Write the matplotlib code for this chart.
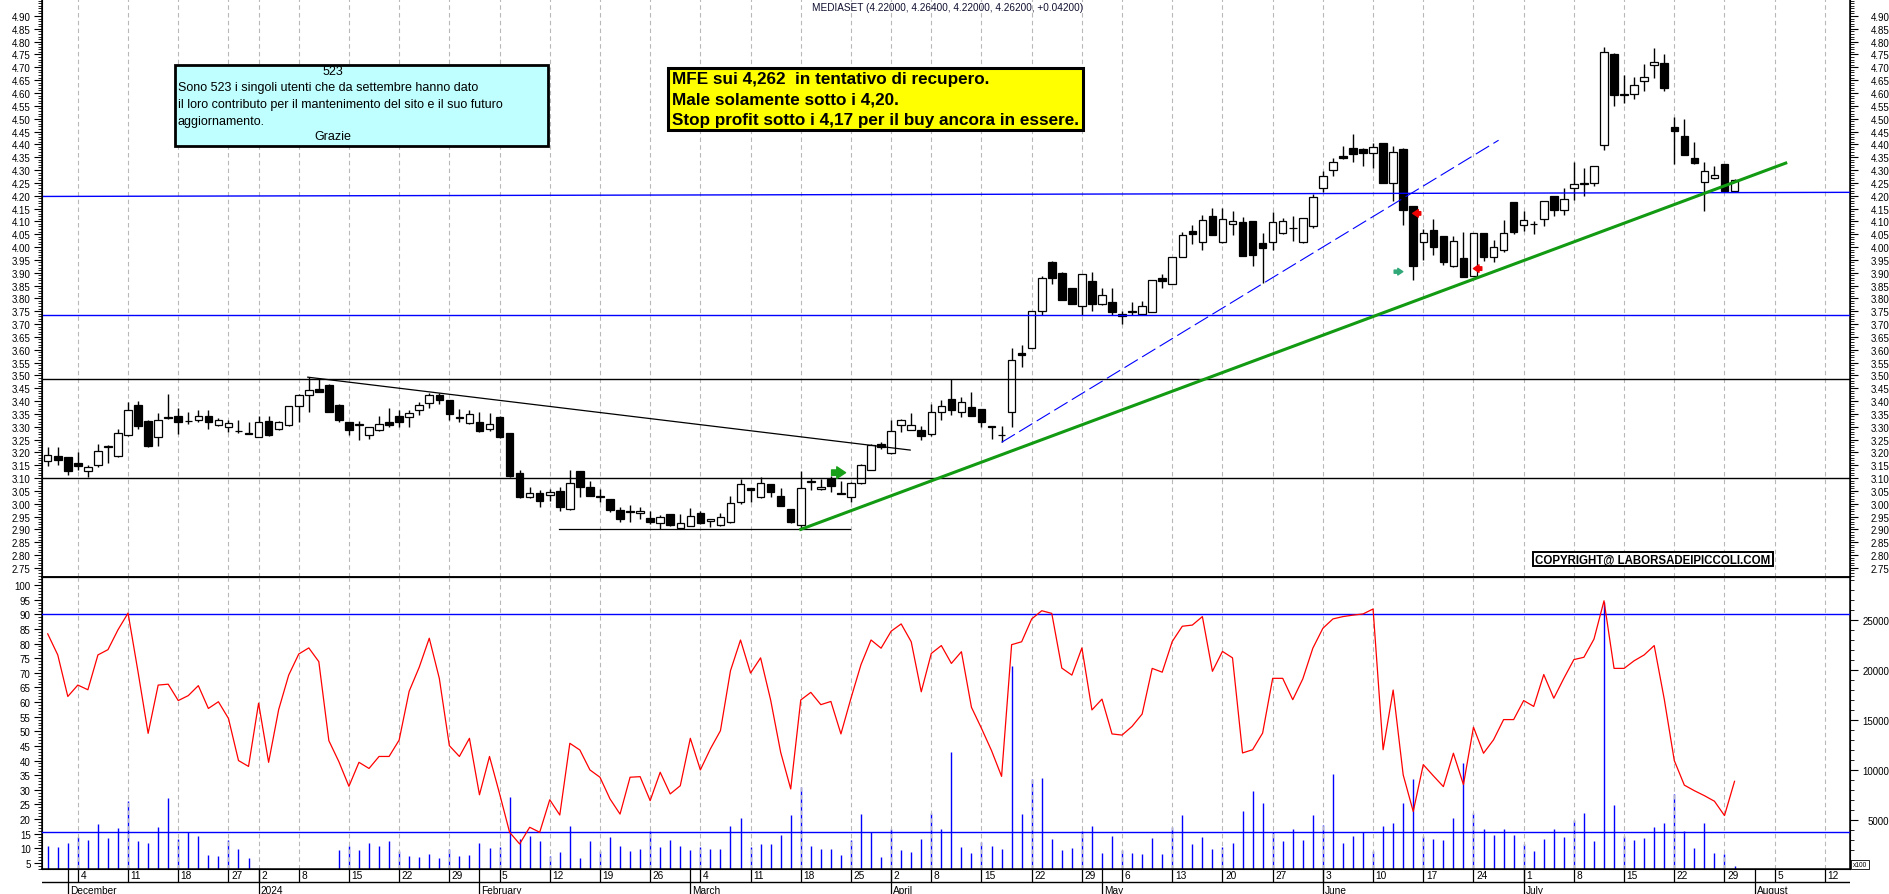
import numpy as np
import pandas as pd
import matplotlib
matplotlib.use("Agg")
import matplotlib.pyplot as plt
from matplotlib.patches import Rectangle
from matplotlib.ticker import MultipleLocator

plt.rcParams['font.family'] = ['Liberation Sans', 'DejaVu Sans']

# ---------------- data ----------------
title = "MEDIASET (4.22000, 4.26400, 4.22000, 4.26200, +0.04200)"
first_day = '2023-11-29'
last_day = '2024-08-20'
holidays = ['2023-12-25', '2023-12-26', '2024-01-01', '2024-03-29',
            '2024-04-01', '2024-05-01', '2024-08-15']

opens = [3.168, 3.185, 3.181, 3.159, 3.127, 3.150, 3.222, 3.184, 3.267, 3.386,
         3.323, 3.258, 3.339, 3.343, 3.322, 3.327, 3.343, 3.308, 3.297, 3.285,
         3.275, 3.261, 3.323, 3.291, 3.308, 3.379, 3.425, 3.447, 3.464, 3.386,
         3.317, 3.307, 3.267, 3.288, 3.317, 3.343, 3.336, 3.366, 3.391, 3.423,
         3.404, 3.336, 3.314, 3.317, 3.291, 3.339, 3.274, 3.118, 3.025, 3.040,
         3.034, 3.050, 2.978, 3.127, 3.064, 3.031, 3.018, 2.975, 2.973, 2.962,
         2.943, 2.923, 2.960, 2.904, 2.914, 2.962, 2.932, 2.917, 2.927, 3.005,
         3.062, 3.025, 3.075, 3.030, 2.979, 2.917, 3.085, 3.056, 3.095, 3.041,
         3.025, 3.079, 3.133, 3.231, 3.196, 3.306, 3.289, 3.287, 3.273, 3.356,
         3.408, 3.356, 3.375, 3.369, 3.303, 3.268, 3.356, 3.588, 3.606, 3.749,
         3.943, 3.900, 3.839, 3.770, 3.869, 3.778, 3.787, 3.730, 3.752, 3.738,
         3.748, 3.878, 3.856, 3.962, 4.064, 4.018, 4.119, 4.018, 4.088, 4.099,
         4.100, 4.014, 4.018, 4.053, 4.074, 4.018, 4.081, 4.229, 4.300, 4.353,
         4.384, 4.383, 4.366, 4.404, 4.248, 4.382, 4.158, 4.018, 4.066, 4.042,
         3.925, 3.957, 3.888, 4.053, 3.960, 3.990, 4.175, 4.086, 4.089, 4.109,
         4.197, 4.144, 4.230, 4.248, 4.248, 4.397, 4.752, 4.596, 4.596, 4.648,
         4.709, 4.717, 4.466, 4.431, 4.345, 4.254, 4.269, 4.323, 4.220]
highs = [3.219, 3.219, 3.183, 3.200, 3.150, 3.232, 3.228, 3.291, 3.395, 3.399,
         3.325, 3.353, 3.427, 3.373, 3.356, 3.366, 3.366, 3.333, 3.327, 3.327,
         3.317, 3.343, 3.343, 3.323, 3.380, 3.427, 3.492, 3.488, 3.465, 3.387,
         3.318, 3.323, 3.298, 3.343, 3.373, 3.366, 3.365, 3.395, 3.430, 3.430,
         3.405, 3.369, 3.365, 3.356, 3.353, 3.340, 3.276, 3.133, 3.064, 3.053,
         3.056, 3.066, 3.133, 3.128, 3.088, 3.056, 3.019, 2.988, 2.995, 2.988,
         2.973, 2.956, 2.961, 2.960, 2.982, 2.973, 2.940, 2.962, 3.030, 3.098,
         3.063, 3.103, 3.076, 3.060, 2.980, 3.128, 3.101, 3.095, 3.108, 3.090,
         3.086, 3.156, 3.234, 3.241, 3.327, 3.330, 3.352, 3.304, 3.388, 3.405,
         3.484, 3.414, 3.434, 3.370, 3.304, 3.304, 3.605, 3.618, 3.750, 3.886,
         3.944, 3.901, 3.840, 3.896, 3.904, 3.839, 3.839, 3.752, 3.787, 3.790,
         3.872, 3.894, 3.963, 4.057, 4.086, 4.125, 4.151, 4.151, 4.142, 4.116,
         4.101, 4.053, 4.135, 4.113, 4.119, 4.113, 4.206, 4.297, 4.345, 4.392,
         4.440, 4.384, 4.405, 4.405, 4.392, 4.384, 4.159, 4.070, 4.109, 4.043,
         4.044, 4.057, 4.054, 4.054, 4.027, 4.106, 4.176, 4.142, 4.103, 4.179,
         4.198, 4.230, 4.332, 4.306, 4.315, 4.778, 4.756, 4.670, 4.661, 4.713,
         4.774, 4.752, 4.505, 4.499, 4.410, 4.330, 4.317, 4.324, 4.264]
lows = [3.148, 3.150, 3.113, 3.133, 3.104, 3.142, 3.159, 3.183, 3.265, 3.291,
        3.221, 3.226, 3.331, 3.271, 3.310, 3.317, 3.291, 3.301, 3.280, 3.275,
        3.270, 3.258, 3.262, 3.288, 3.304, 3.319, 3.358, 3.434, 3.356, 3.319,
        3.267, 3.249, 3.252, 3.284, 3.297, 3.300, 3.300, 3.345, 3.372, 3.389,
        3.327, 3.319, 3.312, 3.280, 3.282, 3.256, 3.105, 3.024, 3.022, 2.986,
        3.012, 2.973, 2.976, 3.027, 3.029, 3.008, 2.969, 2.930, 2.930, 2.940,
        2.921, 2.903, 2.913, 2.902, 2.912, 2.921, 2.908, 2.914, 2.925, 2.997,
        3.005, 3.024, 3.025, 2.991, 2.926, 2.900, 3.053, 3.055, 3.044, 3.038,
        3.008, 3.078, 3.132, 3.212, 3.194, 3.280, 3.286, 3.249, 3.264, 3.327,
        3.346, 3.338, 3.340, 3.297, 3.254, 3.239, 3.297, 3.532, 3.605, 3.734,
        3.855, 3.793, 3.777, 3.735, 3.751, 3.774, 3.735, 3.700, 3.735, 3.737,
        3.747, 3.839, 3.855, 3.961, 4.012, 3.990, 4.047, 4.017, 4.048, 3.965,
        3.927, 3.858, 3.990, 4.052, 4.025, 4.017, 4.073, 4.216, 4.275, 4.343,
        4.332, 4.317, 4.308, 4.250, 4.180, 4.087, 3.873, 3.951, 3.970, 3.931,
        3.924, 3.883, 3.887, 3.947, 3.943, 3.982, 4.051, 4.061, 4.051, 4.083,
        4.122, 4.126, 4.184, 4.197, 4.236, 4.379, 4.548, 4.560, 4.577, 4.609,
        4.657, 4.609, 4.323, 4.357, 4.325, 4.142, 4.265, 4.219, 4.220]
closes = [3.190, 3.171, 3.127, 3.146, 3.142, 3.207, 3.224, 3.275, 3.366, 3.301,
          3.223, 3.327, 3.333, 3.317, 3.323, 3.343, 3.317, 3.327, 3.314, 3.283,
          3.273, 3.320, 3.267, 3.317, 3.379, 3.425, 3.444, 3.436, 3.356, 3.327,
          3.287, 3.309, 3.297, 3.310, 3.306, 3.317, 3.353, 3.384, 3.424, 3.405,
          3.349, 3.334, 3.349, 3.282, 3.309, 3.258, 3.107, 3.025, 3.040, 3.012,
          3.044, 2.988, 3.079, 3.066, 3.031, 3.025, 2.975, 2.940, 2.966, 2.973,
          2.930, 2.949, 2.917, 2.923, 2.953, 2.923, 2.939, 2.949, 3.004, 3.075,
          3.053, 3.079, 3.047, 2.992, 2.927, 3.060, 3.087, 3.064, 3.069, 3.039,
          3.079, 3.150, 3.228, 3.219, 3.282, 3.326, 3.306, 3.264, 3.356, 3.382,
          3.366, 3.395, 3.343, 3.320, 3.298, 3.266, 3.558, 3.578, 3.749, 3.881,
          3.878, 3.794, 3.778, 3.895, 3.778, 3.814, 3.745, 3.738, 3.747, 3.770,
          3.871, 3.869, 3.962, 4.047, 4.051, 4.105, 4.048, 4.109, 4.100, 3.966,
          3.969, 3.995, 4.096, 4.100, 4.076, 4.112, 4.196, 4.278, 4.330, 4.347,
          4.361, 4.366, 4.388, 4.251, 4.371, 4.145, 3.925, 4.053, 3.999, 3.940,
          4.022, 3.884, 4.053, 3.960, 3.999, 4.053, 4.057, 4.105, 4.091, 4.178,
          4.144, 4.187, 4.244, 4.244, 4.314, 4.761, 4.594, 4.594, 4.631, 4.664,
          4.719, 4.618, 4.451, 4.358, 4.326, 4.297, 4.282, 4.220, 4.262]

oscillator = [83.3, 76.1, 61.9, 65.8, 64.2, 76.1, 77.9, 84.7, 90.4, 70.2,
              49.3, 65.8, 66.1, 60.5, 62.2, 65.6, 57.8, 60.1, 54.4, 40.0,
              38.0, 59.6, 39.4, 57.4, 69.2, 76.4, 78.5, 73.8, 46.8, 39.6,
              31.2, 39.4, 37.3, 41.4, 41.4, 47.0, 63.7, 71.9, 81.8, 68.1,
              45.1, 41.4, 47.6, 28.3, 41.4, 28.7, 15.5, 11.5, 17.2, 15.5,
              26.6, 21.4, 45.9, 43.6, 36.8, 34.3, 26.9, 21.7, 34.3, 34.5,
              26.3, 36.0, 28.6, 31.4, 47.6, 36.8, 44.0, 50.2, 70.7, 81.2,
              69.9, 75.1, 60.7, 42.8, 30.3, 60.7, 63.3, 59.1, 60.2, 49.1,
              61.3, 72.8, 81.2, 78.4, 84.2, 86.7, 80.6, 63.5, 76.6, 79.3,
              73.2, 77.2, 58.2, 51.0, 43.4, 34.6, 79.6, 80.6, 88.4, 91.2,
              90.3, 71.6, 69.2, 78.5, 57.3, 61.0, 49.1, 48.7, 51.7, 55.9,
              71.5, 70.2, 80.7, 85.9, 86.3, 89.2, 70.5, 77.3, 75.1, 42.6,
              43.7, 49.4, 68.1, 68.1, 60.8, 67.9, 78.4, 85.2, 88.4, 89.2,
              89.7, 90.1, 91.8, 43.7, 64.1, 35.1, 22.6, 38.6, 34.8, 31.1,
              42.5, 31.8, 51.4, 42.5, 47.1, 54.0, 54.0, 60.5, 58.5, 69.4,
              61.3, 68.1, 74.5, 75.3, 81.5, 94.6, 71.5, 71.5, 74.1, 76.1,
              79.3, 61.0, 40.0, 31.6, 29.7, 28.0, 26.1, 21.2, 32.9]

volume = [2440, 2340, 2700, 3340, 3000, 4600, 3200, 4200, 6940, 2900,
          2700, 4340, 7200, 3100, 3770, 3440, 1500, 1440, 3000, 2100,
          1200, 0, 0, 0, 0, 0, 0, 0, 0, 2000,
          2440, 2000, 2700, 2440, 2900, 1940, 1440, 1340, 1600, 1200,
          2100, 1440, 1500, 2700, 2200, 2340, 7340, 3100, 3440, 2940,
          1440, 1840, 4440, 1170, 2940, 1940, 3340, 2440, 1940, 2100,
          3940, 2270, 3000, 2440, 2040, 2340, 2100, 2100, 4440, 5200,
          2340, 2600, 2600, 3500, 5500, 8340, 2440, 2100, 2100, 1500,
          3000, 5600, 3770, 1340, 4100, 2000, 1840, 3100, 5700, 4100,
          11770, 2340, 1700, 2840, 2440, 2100, 20430, 5600, 9100, 9200,
          3100, 2000, 2200, 3870, 4370, 1700, 3370, 2000, 1700, 1600,
          3200, 1600, 4270, 5500, 2600, 3340, 2100, 2340, 2700, 5870,
          7940, 6700, 3770, 2870, 4100, 3000, 5500, 4500, 9600, 2700,
          3370, 3770, 1870, 4370, 4700, 6700, 9100, 3440, 3100, 3000,
          5200, 10700, 5700, 4100, 3500, 4100, 3500, 2600, 1870, 3100,
          4100, 3340, 5040, 5700, 2940, 26770, 6500, 3440, 3000, 3200,
          4340, 4700, 7600, 3870, 2200, 4700, 1700, 1600, 430]

# drawn levels and trendlines (index, price)
blue_levels = [3.734]
blue_slanted = [(-0.57, 4.197), (179.5, 4.213)]
black_levels = [3.486, 3.100]
black_trend = [(25.9, 3.493), (85.9, 3.209)]
black_support = [(50.9, 2.900), (79.9, 2.900)]
green_trend = [(75.0, 2.900), (173.1, 4.327)]
blue_dashed = [(95.0, 3.239), (144.5, 4.416)]
osc_levels = [90.2, 15.5]

green_arrow = [(78.07, 3.121), (79.46, 3.121)]
red_arrows = [[(136.75, 4.131), (135.95, 4.131)], [(142.83, 3.916), (141.99, 3.916)]]
teal_arrow = [(134.1, 3.904), (134.96, 3.904)]

box_lines = ["Sono 523 i singoli utenti che da settembre hanno dato",
             "il loro contributo per il mantenimento del sito e il suo futuro",
             "aggiornamento."]
note_lines = ["MFE sui 4,262  in tentativo di recupero.",
              "Male solamente sotto i 4,20.",
              "Stop profit sotto i 4,17 per il buy ancora in essere."]

# ---------------- calendar ----------------
days = pd.bdate_range(first_day, last_day, freq='C', holidays=holidays)
XMIN, XMAX = -0.57, 179.5
x = np.arange(len(closes))
weeks = days.to_period('W')
week_start = [i for i in range(1, len(days)) if weeks[i] != weeks[i - 1] and i <= XMAX]
month_start = [i for i in range(1, len(days)) if days[i].month != days[i - 1].month and i <= XMAX]

# ---------------- figure ----------------
W, H = 1890, 895
fig = plt.figure(figsize=(W / 100, H / 100), dpi=100)


def rect(x0, y0, x1, y1):
    return [x0 / W, 1 - y1 / H, (x1 - x0) / W, (y1 - y0) / H]


def fx(px):
    return px / W


def fy(py):
    return 1 - py / H


ax_p = fig.add_axes(rect(42, 0, 1850, 578))
ax_l = fig.add_axes(rect(42, 578, 1850, 870), sharex=ax_p)
ax_d = fig.add_axes(rect(42, 870, 1850, 895), sharex=ax_p)
ax_p.set_xlim(XMIN, XMAX)

grid_kw = dict(color='#b8b8b8', lw=0.8, ls=(0, (4, 3)), zorder=0)
for ax in (ax_p, ax_l):
    for i in week_start:
        ax.axvline(i, **grid_kw)
    ax.tick_params(axis='x', bottom=False, labelbottom=False)
    for s in ax.spines.values():
        s.set_linewidth(1.1)

# ---- price panel ----
o, h, l, c = map(np.array, (opens, highs, lows, closes))
up = c >= o
lo = np.minimum(o, c)
bh = np.maximum(np.abs(c - o), 0.002)
ax_p.vlines(x, l, h, color='black', lw=1, zorder=3)
ax_p.bar(x[up], bh[up], 0.75, bottom=lo[up], color='white', edgecolor='black', lw=0.9, zorder=4)
ax_p.bar(x[~up], bh[~up], 0.75, bottom=lo[~up], color='black', edgecolor='black', lw=0.9, zorder=4)

for lev in blue_levels:
    ax_p.axhline(lev, color='#0000ff', lw=1, zorder=5)
ax_p.plot(*zip(*blue_slanted), color='#0000ff', lw=1, zorder=5)
for lev in black_levels:
    ax_p.axhline(lev, color='black', lw=1, zorder=5)
ax_p.plot(*zip(*black_trend), color='black', lw=0.9, zorder=5)
ax_p.plot(*zip(*black_support), color='black', lw=0.9, zorder=5)
ax_p.plot(*zip(*blue_dashed), color='#0000ff', lw=0.8, ls=(0, (14, 4.5)), zorder=5)
ax_p.plot(*zip(*green_trend), color='#129a12', lw=2.2, zorder=6)


def arrow(ax, tail, tip, color, scale):
    ax.annotate('', xy=tip, xytext=tail,
                arrowprops=dict(arrowstyle='simple,head_length=0.45,head_width=0.6,tail_width=0.28',
                                color=color, mutation_scale=scale, shrinkA=0, shrinkB=0),
                zorder=7)


arrow(ax_p, green_arrow[0], green_arrow[1], '#18a018', 14)
for t, p in red_arrows:
    arrow(ax_p, t, p, '#ee0000', 9)
arrow(ax_p, teal_arrow[0], teal_arrow[1], '#30a878', 8)

ax_p.set_ylim(2.7145, 4.9662)
price_ticks = np.round(np.arange(2.75, 4.901, 0.05), 2)
ax_pr = ax_p.twinx()
ax_pr.set_ylim(ax_p.get_ylim())
for ax in (ax_p, ax_pr):
    ax.set_yticks(price_ticks)
    ax.set_yticklabels(['%.2f' % v for v in price_ticks], ha='right')
    ax.yaxis.set_minor_locator(MultipleLocator(0.01))
    ax.spines['top'].set_visible(False)
ax_p.tick_params(axis='y', which='major', length=6, width=0.8, pad=2.2, labelsize=7)
ax_p.tick_params(axis='y', which='minor', length=3, width=0.6)
ax_pr.tick_params(axis='y', which='major', length=6, width=0.8, pad=22.3, labelsize=7)
ax_pr.tick_params(axis='y', which='minor', length=3, width=0.6)
ax_pr.tick_params(axis='x', bottom=False, labelbottom=False)

# ---- lower panel ----
ax_v = ax_l.twinx()
ax_v.vlines(x, 0, volume, color='#0000ff', lw=1)
ax_v.set_ylim(100, 29300)
vol_ticks = np.arange(5000, 25001, 5000)
ax_v.set_yticks(vol_ticks)
ax_v.set_yticklabels([str(v) for v in vol_ticks], ha='right')
ax_v.yaxis.set_minor_locator(MultipleLocator(1000))
ax_v.tick_params(axis='y', which='major', length=6, width=0.8, pad=22.3, labelsize=7)
ax_v.tick_params(axis='y', which='minor', length=3, width=0.6)

ax_l.set_zorder(ax_v.get_zorder() + 1)
ax_l.patch.set_visible(False)
for lev in osc_levels:
    ax_l.axhline(lev, color='#0000ff', lw=1, zorder=4)
ax_l.plot(x, oscillator, color='#ff0000', lw=0.9, zorder=5)
ax_l.set_ylim(2.94, 102.73)
osc_ticks = np.arange(5, 101, 5)
ax_l.set_yticks(osc_ticks)
ax_l.set_yticklabels([str(v) for v in osc_ticks])
ax_l.yaxis.set_minor_locator(MultipleLocator(1))
ax_l.tick_params(axis='y', which='major', length=6, width=0.8, pad=2.2, labelsize=7)
ax_l.tick_params(axis='y', which='minor', length=3, width=0.6)

# ---- date strip ----
ax_d.set_ylim(0, 1)
ax_d.axis('off')
ax_d.axhline(0.47, color='black', lw=1)
ax_d.vlines(week_start, 0.47, 1, color='black', lw=0.9)
ax_d.vlines(month_start, 0, 1, color='black', lw=0.9)
for i in week_start:
    ax_d.text(i + 0.25, 0.74, str(days[i].day), fontsize=7.3, ha='left', va='center')
for i in month_start:
    name = str(days[i].year) if days[i].month == 1 else days[i].strftime('%B')
    ax_d.text(i + 0.2, 0.17, name, fontsize=7.3, ha='left', va='center')

# ---- annotations ----
fig.text(fx(812), fy(8), title, fontsize=7.2, ha='left', va='center', color='#101030')

fig.add_artist(Rectangle((fx(175), fy(147)), fx(548 - 175), (147 - 66) / H,
                         transform=fig.transFigure, fc='#c0ffff', ec='black', lw=2, zorder=5))
fig.text(fx(333), fy(72), '523', ha='center', va='center', fontsize=9, zorder=6)
for k, line in enumerate(box_lines):
    fig.text(fx(178), fy(88.5 + 16.6 * k), line, ha='left', va='center', fontsize=9, zorder=6)
fig.text(fx(333), fy(137), 'Grazie', ha='center', va='center', fontsize=9, zorder=6)

fig.add_artist(Rectangle((fx(668), fy(131)), fx(1083 - 668), (131 - 69) / H,
                         transform=fig.transFigure, fc='#ffff00', ec='black', lw=2.2, zorder=5))
for k, line in enumerate(note_lines):
    fig.text(fx(672), fy(79.3 + 20.7 * k), line, ha='left', va='center', fontsize=12.3,
             fontweight='bold', zorder=6)

fig.add_artist(Rectangle((fx(1533), fy(567)), fx(1773 - 1533), (567 - 553) / H,
                         transform=fig.transFigure, fc='white', ec='black', lw=1.4, zorder=5))
fig.text(fx(1653), fy(560.5), 'COPYRIGHT@ LABORSADEIPICCOLI.COM', ha='center', va='center',
         fontsize=8.3, fontweight='bold', zorder=6)

fig.add_artist(Rectangle((fx(1851), fy(870)), fx(18), 9 / H,
                         transform=fig.transFigure, fc='white', ec='black', lw=0.6, zorder=5))
fig.text(fx(1860), fy(865.5), 'x100', ha='center', va='center', fontsize=4.8, zorder=6)

fig.savefig('out.png', dpi=100)
